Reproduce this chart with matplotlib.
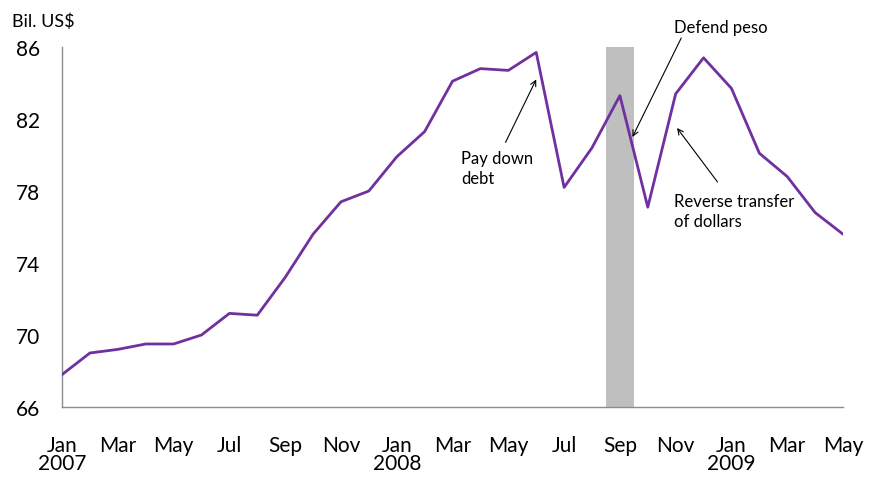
import numpy as np
import matplotlib.pyplot as plt

# ----------------------------
# Data: monthly reserves, Jan 2007 - May 2009 (Bil. US$)
# ----------------------------
months = ["Jan", "Feb", "Mar", "Apr", "May", "Jun",
          "Jul", "Aug", "Sep", "Oct", "Nov", "Dec"]
years = [2007, 2008, 2009]
reserves = [67.8, 69.0, 69.2, 69.5, 69.5, 70.0, 71.2, 71.1, 73.2, 75.6, 77.4, 78.0,
            79.9, 81.3, 84.1, 84.8, 84.7, 85.7, 78.2, 80.4, 83.3, 77.1, 83.4, 85.4,
            83.7, 80.1, 78.8, 76.8, 75.6]
yticks = [66, 70, 74, 78, 82, 86]
shade_month = 20  # Sep 2008

# ----------------------------
# Figure
# ----------------------------
plt.rcParams['font.family'] = ['Lato', 'DejaVu Sans']
fig = plt.figure(figsize=(8.7, 4.81), dpi=100)
ax = fig.add_axes([0.0713, 0.1518, 0.8977, 0.7484])

x = np.arange(len(reserves))
ax.axvspan(shade_month - 0.5, shade_month + 0.5, color="#bfbfbf", lw=0, zorder=1)
ax.plot(x, reserves, color="#7030a0", lw=2, zorder=3)

ax.set_xlim(0, len(reserves) - 1)
ax.set_ylim(66, 86)
ax.set_yticks(yticks)
ax.set_yticklabels([str(v) for v in yticks], fontsize=15)

labels = []
for i in range(0, len(reserves), 2):
    m = months[i % 12]
    if m == "Jan":
        labels.append(m + "\n" + str(years[i // 12]))
    else:
        labels.append(m)
ax.set_xticks(x[::2])
ax.set_xticklabels(labels, fontsize=15, linespacing=0.9, va="top")

ax.tick_params(axis="both", length=0)
ax.tick_params(axis="x", pad=20)
ax.tick_params(axis="y", pad=16)
for s in ["top", "right"]:
    ax.spines[s].set_visible(False)
for s in ["left", "bottom"]:
    ax.spines[s].set_color("#8c8c8c")
    ax.spines[s].set_linewidth(1)

fig.text(0.014, 0.954, "Bil. US$", fontsize=13, va="center", ha="left")

# annotations
arrow = dict(arrowstyle="->", color="black", lw=0.8, shrinkA=0, shrinkB=0)
ax.annotate("", xy=(17.0, 84.2), xytext=(15.9, 80.7), arrowprops=arrow)
ax.text(14.3, 80.3, "Pay down\ndebt", fontsize=12, va="top", ha="left", linespacing=1.35)

ax.annotate("", xy=(20.45, 81.0), xytext=(22.2, 86.5), arrowprops=arrow)
ax.text(21.95, 87.1, "Defend peso", fontsize=12, va="center", ha="left")

ax.annotate("", xy=(22.05, 81.5), xytext=(23.5, 78.5), arrowprops=arrow)
ax.text(21.95, 77.9, "Reverse transfer\nof dollars", fontsize=12, va="top", ha="left",
        linespacing=1.35)

plt.savefig("out.png", dpi=100)
